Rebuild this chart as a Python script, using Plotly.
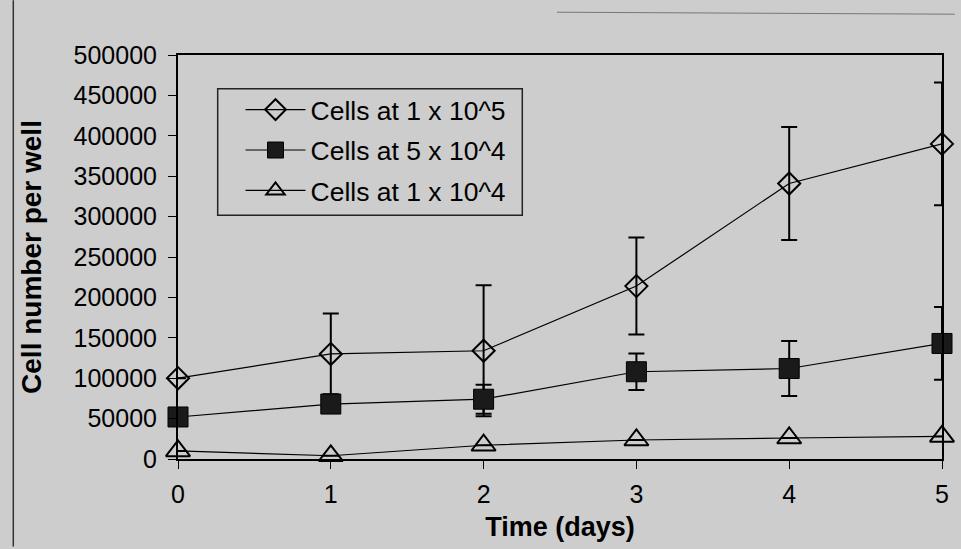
import plotly.graph_objects as go

days = [0, 1, 2, 3, 4, 5]
names = ["Cells at 1 x 10^5", "Cells at 5 x 10^4", "Cells at 1 x 10^4"]
s1 = [100000, 130000, 134000, 214000, 341000, 390000]
s1_err = [0, 50000, 81000, 60000, 70000, 76000]
s2 = [52000, 68000, 74000, 108000, 112000, 143000]
s2_err = [0, 8000, 18000, 22500, 34000, 45000]
s3 = [10000, 4000, 17000, 23500, 26000, 28000]
s3_err = [0, 0, 0, 0, 0, 0]
y_ticks = [0, 50000, 100000, 150000, 200000, 250000, 300000, 350000, 400000, 450000, 500000]

BG = "#cdcdcd"
FONT = "Arial, Liberation Sans, sans-serif"

# plot-area geometry in pixels (used for the legend box / frame decoration)
L, R, T, B = 178, 948, 55, 461
PW, PH = R - L, B - T

def px(x):
    return (x - L) / PW

def py(y):
    return 1 - (y - T) / PH

fig = go.Figure()
styles = [
    dict(symbol="diamond-open", size=17, color="black", line=dict(width=2, color="black")),
    dict(symbol="square", size=20, color="#1a1a1a", line=dict(width=1, color="black")),
    dict(symbol="triangle-up-open", size=21, color="black", line=dict(width=2, color="black")),
]
for i, (vals, errs) in enumerate([(s1, s1_err), (s2, s2_err), (s3, s3_err)]):
    fig.add_trace(go.Scatter(
        x=days, y=vals, name=names[i], mode="lines+markers",
        line=dict(color="black", width=1.2),
        marker=styles[i],
        error_y=dict(type="data", array=errs, visible=True, color="black", thickness=2, width=8),
        cliponaxis=False, legendgroup=f"g{i}",
    ))

fig.update_layout(
    width=961, height=549,
    margin=dict(l=L, r=961 - R, t=T, b=549 - B),
    paper_bgcolor=BG, plot_bgcolor=BG,
    font=dict(family=FONT, color="black", size=25),
    showlegend=True,
    legend=dict(
        x=px(241), y=py(86), xanchor="left", yanchor="top",
        bgcolor="rgba(0,0,0,0)", borderwidth=0,
        font=dict(size=26.5, family=FONT), tracegroupgap=3, itemwidth=60,
    ),
    xaxis=dict(
        range=[0, 5], tickmode="array", tickvals=days, ticktext=[str(d) for d in days],
        showline=True, linecolor="black", linewidth=2, mirror=True,
        ticks="outside", ticklen=8, tickcolor="black", showgrid=False, zeroline=False,
        title=dict(text="<b>Time (days)</b>", font=dict(size=27), standoff=10),
        tickfont=dict(size=25), ticklabelstandoff=4,
    ),
    yaxis=dict(
        range=[0, 500000], tickmode="array", tickvals=y_ticks, ticktext=[str(v) for v in y_ticks],
        showline=True, linecolor="black", linewidth=2, mirror=True,
        ticks="outside", ticklen=8, tickcolor="black", showgrid=False, zeroline=False,
        title=dict(text="<b>Cell number per well</b>", font=dict(size=28), standoff=24),
        tickfont=dict(size=25), ticklabelstandoff=6,
    ),
    shapes=[
        dict(type="line", xref="paper", yref="paper",
             x0=px(12), x1=px(12), y0=py(549), y1=py(0),
             line=dict(color="#333", width=1.5)),
        dict(type="line", xref="paper", yref="paper",
             x0=px(560), x1=px(961), y0=py(12), y1=py(14),
             line=dict(color="#777", width=1)),
        dict(type="rect", xref="paper", yref="paper",
             x0=px(218), x1=px(525), y0=py(216), y1=py(89),
             line=dict(color="#222", width=1.5), fillcolor="rgba(0,0,0,0)", layer="below"),
    ],
)

fig.write_html("out.html")
